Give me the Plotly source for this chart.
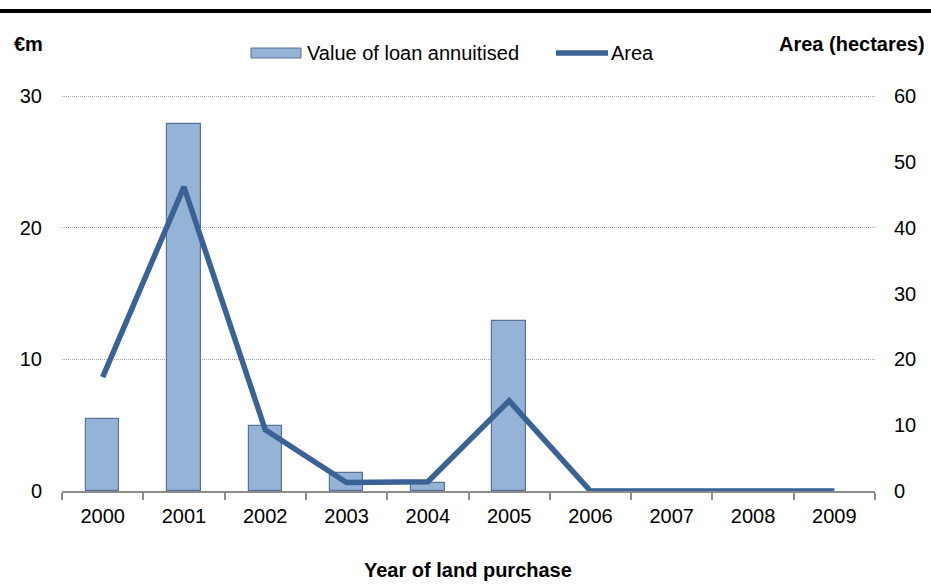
import plotly.graph_objects as go

# Land purchases by year
years = ["2000", "2001", "2002", "2003", "2004", "2005", "2006", "2007", "2008", "2009"]
loan_value_m = [5.5, 27.9, 4.9, 1.4, 0.6, 12.95, 0, 0, 0, 0]      # € million, annuitised
area_ha = [17.3, 46.2, 9.3, 1.3, 1.4, 13.7, 0, 0, 0, 0]          # hectares

left_ticks = [0, 10, 20, 30]
right_ticks = [0, 10, 20, 30, 40, 50, 60]

BAR_FILL = "#95B3D7"
BAR_EDGE = "#5B7397"
LINE_COL = "#3A6294"
FONT = "Liberation Sans, Arial, sans-serif"

W, H = 931, 584
L, R, T, B = 62, 56, 95, 93
pw, ph = W - L - R, H - T - B

def px_x(x):
    return (x - L) / pw

def px_y(y):
    return 1 - (y - T) / ph

# no outline on empty years
edge_widths = [1.2 if v > 0 else 0 for v in loan_value_m]

fig = go.Figure()
fig.add_trace(go.Bar(
    x=years, y=loan_value_m, name="Value of loan annuitised",
    marker=dict(color=BAR_FILL, line=dict(color=BAR_EDGE, width=edge_widths)),
    width=0.41, showlegend=False, yaxis="y",
))
fig.add_trace(go.Scatter(
    x=years, y=area_ha, name="Area", mode="lines",
    line=dict(color=LINE_COL, width=5.5), showlegend=False, yaxis="y2",
))

shapes = [
    # heavy rule across the top
    dict(type="line", xref="paper", yref="paper",
         x0=px_x(0), x1=px_x(W), y0=px_y(11), y1=px_y(11),
         line=dict(color="black", width=4)),
    # legend swatches
    dict(type="rect", xref="paper", yref="paper",
         x0=px_x(251), x1=px_x(301), y0=px_y(58), y1=px_y(48),
         fillcolor=BAR_FILL, line=dict(color=BAR_EDGE, width=1)),
    dict(type="line", xref="paper", yref="paper",
         x0=px_x(556), x1=px_x(608), y0=px_y(53), y1=px_y(53),
         line=dict(color=LINE_COL, width=5.5)),
]

ann_font = dict(family=FONT, size=20, color="black")
title_font = dict(family=FONT, size=20, color="black")
annotations = [
    dict(text="Value of loan annuitised", x=px_x(305), y=px_y(53), xref="paper", yref="paper",
         xanchor="left", yanchor="middle", showarrow=False, font=ann_font),
    dict(text="Area", x=px_x(609), y=px_y(53), xref="paper", yref="paper",
         xanchor="left", yanchor="middle", showarrow=False, font=ann_font),
    dict(text="<b>€m</b>", x=px_x(12), y=px_y(44), xref="paper", yref="paper",
         xanchor="left", yanchor="middle", showarrow=False, font=title_font),
    dict(text="<b>Area (hectares)</b>", x=px_x(927), y=px_y(44), xref="paper", yref="paper",
         xanchor="right", yanchor="middle", showarrow=False, font=title_font),
    dict(text="<b>Year of land purchase</b>", x=px_x(468), y=px_y(570), xref="paper", yref="paper",
         xanchor="center", yanchor="middle", showarrow=False, font=title_font),
]

tick_font = dict(family=FONT, size=20, color="black")

fig.update_layout(
    width=W, height=H,
    margin=dict(l=L, r=R, t=T, b=B, pad=0),
    paper_bgcolor="white", plot_bgcolor="white",
    font=dict(family=FONT),
    bargap=0,
    shapes=shapes,
    annotations=annotations,
    xaxis=dict(
        type="category", range=[-0.5, 9.5],
        showline=True, linecolor="#8C8C8C", linewidth=1.5,
        ticks="outside", tickson="boundaries", ticklen=7, tickcolor="#8C8C8C", tickwidth=1.5,
        tickfont=tick_font, ticklabelstandoff=6,
        showgrid=False, zeroline=False, fixedrange=True,
    ),
    yaxis=dict(
        range=[0, 30.08], tickvals=left_ticks, ticktext=[str(v) for v in left_ticks],
        showgrid=True, gridcolor="#A6A6A6", gridwidth=1, griddash="1px,1px",
        zeroline=False, showline=False, ticks="",
        tickfont=tick_font, ticklabelstandoff=19,
    ),
    yaxis2=dict(
        range=[0, 60.16], tickvals=right_ticks, ticktext=[str(v) for v in right_ticks],
        overlaying="y", side="right",
        showgrid=False, zeroline=False, showline=False, ticks="",
        tickfont=tick_font, ticklabelstandoff=18,
    ),
)

fig.write_html("out.html")
